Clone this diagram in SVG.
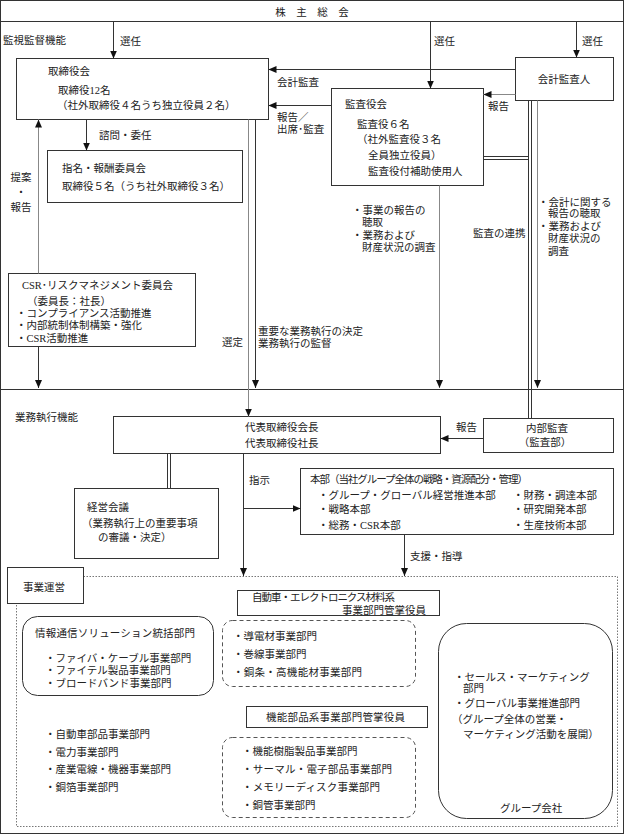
<svg xmlns="http://www.w3.org/2000/svg" width="624" height="834" viewBox="0 0 624 834">
<style>
.t{font-family:"Liberation Serif","Noto Sans CJK JP",serif;font-size:10.5px;fill:#222}
.m{text-anchor:middle}
.b{fill:#fff;stroke:#333;stroke-width:1}
.ln{fill:none;stroke:#333;stroke-width:1}
.g{fill:none;stroke:#888;stroke-width:1}
.ds{fill:#fff;stroke:#555;stroke-width:1;stroke-dasharray:4 3}
.dt{fill:none;stroke:#777;stroke-width:1;stroke-dasharray:1.5 1.5}
</style>
<defs>
<marker id="a" markerWidth="8" markerHeight="7" refX="8" refY="3.5" orient="auto" markerUnits="userSpaceOnUse">
<path d="M0,0 L8,3.5 L0,7 Z" fill="#111"/>
</marker>
</defs>
<rect x="0.5" y="0.5" width="623" height="833" fill="#fff" stroke="#333"/>
<line class="ln" x1="0" y1="389.5" x2="624" y2="389.5"/>
<path class="dt" d="M83.5,576.5 H617.5 V826.5 H16.5 V603.5"/>
<text class="t" x="3" y="44">監視監督機能</text>
<text class="t" x="15" y="421">業務執行機能</text>

<g id="n_shareholders">
<rect class="b" x="0.5" y="0.5" width="623" height="21"/>
<text class="t m" x="312" y="16">株　主　総　会</text>
</g>
<g id="n_board">
<rect class="b" x="16.5" y="58.5" width="252" height="61"/>
<text class="t" x="48" y="75">取締役会</text>
<text class="t" x="58" y="94">取締役12名</text>
<text class="t" x="57" y="109">（社外取締役４名うち独立役員２名）</text>
</g>
<g id="n_nomination">
<rect class="b" x="47.5" y="150.5" width="195" height="52"/>
<text class="t" x="62" y="172">指名・報酬委員会</text>
<text class="t" x="62" y="190">取締役５名（うち社外取締役３名）</text>
</g>
<g id="n_csr">
<rect class="b" x="8.5" y="273.5" width="187" height="73"/>
<text class="t" x="22" y="289">CSR･リスクマネジメント委員会</text>
<text class="t" x="27" y="305">（委員長：社長）</text>
<text class="t" x="16" y="317">・コンプライアンス活動推進</text>
<text class="t" x="16" y="329">・内部統制体制構築・強化</text>
<text class="t" x="16" y="342">・CSR活動推進</text>
</g>
<g id="n_audit_board">
<rect class="b" x="331.5" y="88.5" width="152" height="97"/>
<text class="t" x="345" y="108">監査役会</text>
<text class="t" x="357" y="128">監査役６名</text>
<text class="t" x="357" y="143">（社外監査役３名</text>
<text class="t" x="368" y="159">全員独立役員）</text>
<text class="t" x="368" y="175">監査役付補助使用人</text>
</g>
<g id="n_accounting_auditor">
<rect class="b" x="515.5" y="57.5" width="98" height="43"/>
<text class="t m" x="564" y="83">会計監査人</text>
</g>
<g id="n_rep">
<rect class="b" x="113.5" y="416.5" width="327" height="37"/>
<text class="t" x="245" y="431">代表取締役会長</text>
<text class="t" x="245" y="447">代表取締役社長</text>
</g>
<g id="n_internal_audit">
<rect class="b" x="483.5" y="418.5" width="130" height="34"/>
<text class="t m" x="547" y="432">内部監査</text>
<text class="t m" x="545" y="446">（監査部）</text>
</g>
<g id="n_keiei">
<rect class="b" x="74.5" y="488.5" width="144" height="70"/>
<text class="t" x="87" y="511">経営会議</text>
<text class="t" x="82" y="527">（業務執行上の重要事項</text>
<text class="t" x="98" y="541">の審議・決定）</text>
</g>
<g id="n_honbu">
<rect class="b" x="300.5" y="468.5" width="313" height="66"/>
<text class="t" x="310" y="483" textLength="218">本部（当社グループ全体の戦略・資源配分・管理）</text>
<text class="t" x="318" y="499">・グループ・グローバル経営推進本部</text>
<text class="t" x="318" y="513">・戦略本部</text>
<text class="t" x="318" y="529">・総務・CSR本部</text>
<text class="t" x="513" y="499">・財務・調達本部</text>
<text class="t" x="513" y="513">・研究開発本部</text>
<text class="t" x="513" y="529">・生産技術本部</text>
</g>
<g id="n_jigyo">
<rect class="b" x="7.5" y="567.5" width="76" height="36"/>
<text class="t" x="23" y="591">事業運営</text>
</g>
<g id="n_auto_officer">
<rect class="b" x="237.5" y="590.5" width="202" height="25"/>
<text class="t" x="252" y="601" textLength="143">自動車・エレクトロニクス材料系</text>
<text class="t" x="342" y="614" textLength="84">事業部門管掌役員</text>
</g>
<g id="n_info">
<rect class="b" x="22.5" y="616.5" width="191" height="79" rx="15"/>
<text class="t" x="35" y="637" textLength="160">情報通信ソリューション統括部門</text>
<text class="t" x="45" y="662">・ファイバ・ケーブル事業部門</text>
<text class="t" x="45" y="674">・ファイテル製品事業部門</text>
<text class="t" x="45" y="687">・ブロードバンド事業部門</text>
</g>
<g id="n_dash1">
<rect class="ds" x="222.5" y="620.5" width="193" height="66" rx="10"/>
<text class="t" x="233" y="640">・導電材事業部門</text>
<text class="t" x="233" y="658">・巻線事業部門</text>
<text class="t" x="233" y="676" textLength="129">・銅条・高機能材事業部門</text>
</g>
<g id="n_func_officer">
<rect class="b" x="246.5" y="706.5" width="181" height="21"/>
<text class="t" x="266" y="721" textLength="139">機能部品系事業部門管掌役員</text>
</g>
<g id="n_dash2">
<rect class="ds" x="222.5" y="737.5" width="193" height="80" rx="10"/>
<text class="t" x="242" y="755">・機能樹脂製品事業部門</text>
<text class="t" x="242" y="773" textLength="150">・サーマル・電子部品事業部門</text>
<text class="t" x="242" y="791" textLength="138">・メモリーディスク事業部門</text>
<text class="t" x="242" y="809">・銅管事業部門</text>
</g>
<g id="n_left_list">
<text class="t" x="45" y="738">・自動車部品事業部門</text>
<text class="t" x="45" y="756">・電力事業部門</text>
<text class="t" x="45" y="773">・産業電線・機器事業部門</text>
<text class="t" x="45" y="791">・銅箔事業部門</text>
</g>
<g id="n_group">
<rect class="b" x="438.5" y="623.5" width="174" height="195" rx="28"/>
<text class="t" x="454" y="681">・セールス・マーケティング</text>
<text class="t" x="463" y="692">部門</text>
<text class="t" x="454" y="707">・グローバル事業推進部門</text>
<text class="t" x="452" y="723">（グループ全体の営業・</text>
<text class="t" x="463" y="738">マーケティング活動を展開）</text>
</g>
<text class="t" x="500" y="812">グループ会社</text>

<g id="connectors">
<line class="ln" x1="113.5" y1="21.5" x2="113.5" y2="58.5" marker-end="url(#a)"/>
<line class="ln" x1="430.5" y1="21.5" x2="430.5" y2="88.5" marker-end="url(#a)"/>
<line class="ln" x1="576.5" y1="21.5" x2="576.5" y2="57.5" marker-end="url(#a)"/>
<line class="ln" x1="515.5" y1="69.5" x2="268.5" y2="69.5" marker-end="url(#a)"/>
<line class="ln" x1="331.5" y1="105.5" x2="268.5" y2="105.5" marker-end="url(#a)"/>
<line class="g" x1="515.5" y1="94.5" x2="483.5" y2="94.5" marker-end="url(#a)"/>
<line class="ln" x1="86.5" y1="119.5" x2="86.5" y2="150.5" marker-end="url(#a)"/>
<line class="g" x1="38.5" y1="273.5" x2="38.5" y2="119.5" marker-end="url(#a)"/>
<line class="ln" x1="38.5" y1="346.5" x2="38.5" y2="388" marker-end="url(#a)"/>
<line class="g" x1="248.5" y1="119.5" x2="248.5" y2="416.5" marker-end="url(#a)"/>
<line class="ln" x1="255.5" y1="119.5" x2="255.5" y2="388" marker-end="url(#a)"/>
<line class="g" x1="439.5" y1="185.5" x2="439.5" y2="388" marker-end="url(#a)"/>
<line class="ln" x1="528.5" y1="100.5" x2="528.5" y2="418.5"/>
<line class="ln" x1="531.5" y1="100.5" x2="531.5" y2="418.5"/>
<line class="ln" x1="483.5" y1="156.5" x2="528.5" y2="156.5"/>
<line class="ln" x1="483.5" y1="159.5" x2="528.5" y2="159.5"/>
<line class="g" x1="537.5" y1="100.5" x2="537.5" y2="388" marker-end="url(#a)"/>
<line class="ln" x1="483.5" y1="438.5" x2="440.5" y2="438.5" marker-end="url(#a)"/>
<line class="ln" x1="167.5" y1="453.5" x2="167.5" y2="488.5"/>
<line class="ln" x1="170.5" y1="453.5" x2="170.5" y2="488.5"/>
<line class="ln" x1="243.5" y1="453.5" x2="243.5" y2="576" marker-end="url(#a)"/>
<line class="ln" x1="243.5" y1="508.5" x2="300.5" y2="508.5" marker-end="url(#a)"/>
<line class="ln" x1="404.5" y1="534.5" x2="404.5" y2="576" marker-end="url(#a)"/>
<text class="t" x="120" y="45">選任</text>
<text class="t" x="434" y="45">選任</text>
<text class="t" x="582" y="45">選任</text>
<text class="t" x="277" y="86">会計監査</text>
<text class="t" x="277" y="121">報告／</text>
<text class="t" x="277" y="133">出席･監査</text>
<text class="t" x="488" y="110">報告</text>
<text class="t" x="99" y="139">諮問・委任</text>
<text class="t m" x="21" y="181">提案</text>
<text class="t m" x="21" y="196">・</text>
<text class="t m" x="21" y="211">報告</text>
<text class="t" x="222" y="346">選定</text>
<text class="t" x="258" y="335">重要な業務執行の決定</text>
<text class="t" x="258" y="347">業務執行の監督</text>
<text class="t" x="352" y="214">・事業の報告の</text>
<text class="t" x="362" y="226">聴取</text>
<text class="t" x="352" y="239">・業務および</text>
<text class="t" x="362" y="251">財産状況の調査</text>
<text class="t" x="473" y="237">監査の連携</text>
<text class="t" x="538" y="206">・会計に関する</text>
<text class="t" x="548" y="217">報告の聴取</text>
<text class="t" x="538" y="230">・業務および</text>
<text class="t" x="548" y="242">財産状況の</text>
<text class="t" x="548" y="255">調査</text>
<text class="t" x="456" y="431">報告</text>
<text class="t" x="249" y="484">指示</text>
<text class="t" x="410" y="560">支援・指導</text>
</g>
</svg>
